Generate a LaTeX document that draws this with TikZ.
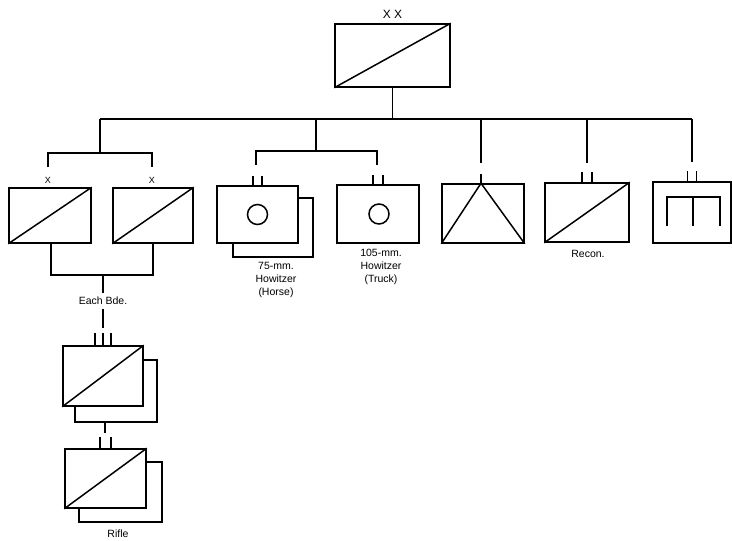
\documentclass[tikz,border=0pt]{standalone}
\usepackage{fontspec}
\setsansfont{Liberation Sans}
\usetikzlibrary{positioning}

\begin{document}
\begin{tikzpicture}[x=1pt, y=-1pt, line width=1.5pt,
	every node/.style={font=\sffamily\fontsize{10.5}{13}\selectfont},
	unitbox/.style={draw, fill=white, inner sep=0pt, minimum width=82pt, minimum height=58pt},
	tick/.style={line width=1.2pt}]
	\useasboundingbox (0,0) rectangle (732,541);
	% division
	\node[unitbox, minimum width=115pt, minimum height=63pt] (div) at (392.5,55.5) {};
	\draw (div.south west) -- (div.north east);
	\node[above=1pt of div, font=\sffamily\fontsize{12}{14}\selectfont] (divsize) {X X};
	\coordinate (bdeJ) at (100,119);
	\coordinate (artJ) at (316,119);
	\coordinate (engJ) at (481,119);
	\coordinate (recJ) at (587,119);
	\coordinate (sigJ) at (692,119);
	\draw (div.south) -- (div.south |- bdeJ);
	\draw (bdeJ) -- (sigJ);
	% brigades
	\node[unitbox, minimum height=55pt] (bdeA) at (50,215.5) {};
	\node[unitbox, minimum width=80pt, minimum height=55pt] (bdeB) at (153,215.5) {};
	\draw (bdeA.south west) -- (bdeA.north east);
	\draw (bdeB.south west) -- (bdeB.north east);
	\node[font=\sffamily\fontsize{9}{11}\selectfont] (bdeAx) at (48,180) {X};
	\node[font=\sffamily\fontsize{9}{11}\selectfont] (bdeBx) at (152,180) {X};
	\coordinate (bdeAtop) at (48,167);
	\coordinate (bdeBtop) at (152,167);
	\draw (bdeJ) -- (100,153) coordinate (bdeK);
	\draw (bdeAtop) |- (bdeK) -| (bdeBtop);
	\coordinate (bdeAbot) at (51,243);
	\coordinate (bdeBbot) at (153,243);
	\draw (bdeAbot) -- (51,275) -- (153,275) -- (bdeBbot);
	\node (each) at (103,301) {Each Bde.};
	\draw (103,275) -- (each.north);
	\draw (each.south) -- (103,328);
	% rifle regiment
	\node[unitbox, minimum width=82pt, minimum height=62pt] (rgtS) at (116,391) {};
	\node[unitbox, minimum width=80pt, minimum height=60pt] (rgt) at (103,376) {};
	\draw (rgt.south west) -- (rgt.north east);
	\foreach \dx in {-8,0,8}
		\draw[tick] (rgt.north) ++(\dx,0) -- ++(0,-12);
	\coordinate (rgtBot) at (105,422);
	\draw (rgtBot) -- (105,433);
	% rifle battalion
	\node[unitbox, minimum width=83pt, minimum height=60pt] (bnS) at (120.5,492) {};
	\node[unitbox, minimum width=81pt, minimum height=59pt] (bn) at (105.5,478.5) {};
	\draw (bn.south west) -- (bn.north east);
	\foreach \dx in {-5.5,5.5}
		\draw[tick] (bn.north) ++(\dx,0) -- ++(0,-11);
	\node (rifle) at (118,534) {Rifle};
	% artillery
	\draw (artJ) -- (316,151) coordinate (artK);
	\coordinate (artAtop) at (256,165);
	\coordinate (artBtop) at (377,165);
	\draw (artAtop) |- (artK) -| (artBtop);
	\node[unitbox, minimum width=80pt, minimum height=59pt] (artAS) at (273,227.5) {};
	\node[unitbox, minimum width=81pt, minimum height=57pt] (artA) at (257.5,214.5) {};
	\draw (artA.center) circle (10);
	\foreach \dx in {-4.5,4.5}
		\draw[tick] (artA.north) ++(\dx,0) -- ++(0,-9);
	\node[align=center] (artAlbl) at (276,280) {75-mm.\\Howitzer\\(Horse)};
	\node[unitbox, minimum width=82pt, minimum height=58pt] (artB) at (378,214) {};
	\draw (artB.center) ++(1,0) circle (10);
	\foreach \dx in {-5,5}
		\draw[tick] (artB.north) ++(\dx,0) -- ++(0,-9);
	\node[align=center] (artBlbl) at (381,267) {105-mm.\\Howitzer\\(Truck)};
	% engineers
	\node[unitbox, minimum width=82pt, minimum height=59pt] (eng) at (483,213.5) {};
	\draw (eng.south west) -- (eng.north -| engJ) -- (eng.south east);
	\draw (engJ) -- (481,163);
	\draw[tick] (eng.north -| engJ) -- ++(0,-9);
	% reconnaissance
	\node[unitbox, minimum width=84pt, minimum height=59pt] (rec) at (587,212.5) {};
	\draw (rec.south west) -- (rec.north east);
	\draw (recJ) -- (587,163);
	\foreach \dx in {-5,5}
		\draw[tick] (rec.north) ++(\dx,0) -- ++(0,-10);
	\node (reclbl) at (588,254) {Recon.};
	% signal
	\node[unitbox, minimum width=78pt, minimum height=61pt] (sig) at (692,212.5) {};
	\draw (sigJ) -- (692,162);
	\foreach \dx in {-4.5,4.5}
		\draw[tick] (sig.north) ++(\dx,0) -- ++(0,-10);
	\draw (667,226) -- (667,197) -- (720,197) -- (720,226);
	\draw (693,197) -- (693,226);
\end{tikzpicture}
\end{document}
